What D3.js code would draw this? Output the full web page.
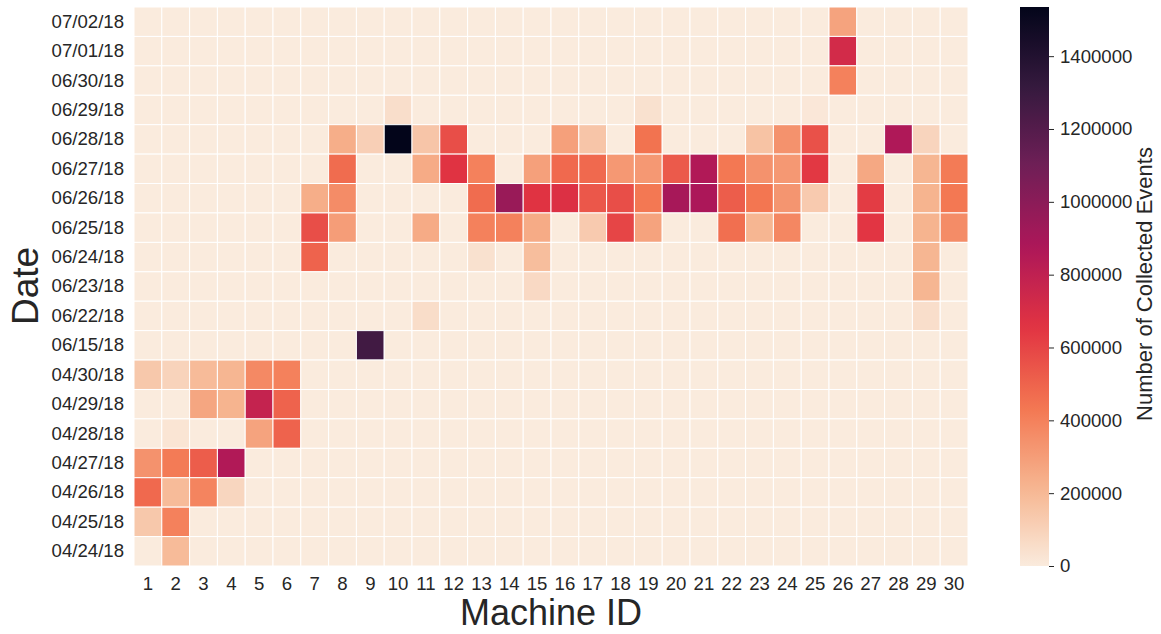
<!DOCTYPE html>
<html>
<head>
<meta charset="utf-8">
<script src="https://cdn.jsdelivr.net/npm/d3@7"></script>
<style>
  body { margin: 0; background: #fff; }
  svg { font-family: "Liberation Sans", Arial, sans-serif; }
</style>
</head>
<body>
<div id="chart"></div>
<script>
// rows top to bottom
const dates = ["07/02/18", "07/01/18", "06/30/18", "06/29/18", "06/28/18", "06/27/18", "06/26/18",
  "06/25/18", "06/24/18", "06/23/18", "06/22/18", "06/15/18", "04/30/18", "04/29/18", "04/28/18",
  "04/27/18", "04/26/18", "04/25/18", "04/24/18"];

const machines = [1, 2, 3, 4, 5, 6, 7, 8, 9, 10, 11, 12, 13, 14, 15,
  16, 17, 18, 19, 20, 21, 22, 23, 24, 25, 26, 27, 28, 29, 30];

// events[row][machine-1]
const events = [
  [0,0,0,0,0,0,0,0,0,0,0,0,0,0,0, 0,0,0,0,0,0,0,0,0,0,280000,0,0,0,0],
  [0,0,0,0,0,0,0,0,0,0,0,0,0,0,0, 0,0,0,0,0,0,0,0,0,0,720000,0,0,0,0],
  [0,0,0,0,0,0,0,0,0,0,0,0,0,0,0, 0,0,0,0,0,0,0,0,0,0,400000,0,0,0,0],
  [0,0,0,0,0,0,0,0,0,50000,0,0,0,0,0, 0,0,0,40000,0,0,0,0,0,15000,0,0,0,0,0],
  [0,0,0,0,0,0,0,240000,110000,1535000,150000,570000,0,0,0, 290000,150000,0,450000,0,0,0,160000,340000,560000,0,0,870000,90000,0],
  [0,0,0,0,0,0,0,470000,0,0,250000,660000,400000,0,290000, 480000,480000,320000,320000,530000,860000,430000,340000,320000,640000,0,260000,0,210000,420000],
  [0,0,0,0,0,0,240000,360000,0,0,0,0,470000,950000,660000, 680000,540000,570000,430000,900000,880000,520000,440000,330000,130000,0,630000,0,220000,430000],
  [0,0,0,0,0,0,570000,300000,0,0,250000,0,400000,400000,250000, 0,130000,600000,280000,0,0,460000,210000,380000,0,0,650000,0,220000,360000],
  [0,0,0,0,0,0,500000,0,0,0,0,0,40000,0,180000, 0,0,0,0,0,0,0,0,0,0,0,0,0,210000,0],
  [0,0,0,0,0,0,0,0,0,0,0,0,0,0,70000, 0,0,0,0,0,0,0,0,0,0,0,0,0,210000,0],
  [0,0,0,0,0,0,0,0,0,0,55000,0,0,0,0, 0,0,0,0,0,0,0,0,0,0,0,0,0,50000,0],
  [0,0,0,0,0,0,0,0,1270000,0,0,0,0,0,0, 0,0,0,0,0,0,0,0,0,0,0,0,0,0,0],
  [140000,95000,190000,210000,370000,400000,0,0,0,0,0,0,0,0,0, 0,0,0,0,0,0,0,0,0,0,0,0,0,0,0],
  [0,0,270000,220000,780000,500000,0,0,0,0,0,0,0,0,0, 0,0,0,0,0,0,0,0,0,0,0,0,0,0,0],
  [0,25000,0,0,280000,500000,0,0,0,0,0,0,0,0,0, 0,0,0,0,0,0,0,0,0,0,0,0,0,0,0],
  [340000,420000,520000,860000,0,0,0,0,0,0,0,0,0,0,0, 0,0,0,0,0,0,0,0,0,0,0,0,0,0,0],
  [480000,190000,390000,85000,0,0,0,0,0,0,0,0,0,0,0, 0,0,0,0,0,0,0,0,0,0,0,0,0,0,0],
  [140000,400000,0,0,0,0,0,0,0,0,0,0,0,0,0, 0,0,0,0,0,0,0,0,0,0,0,0,0,0,0],
  [0,190000,0,0,0,0,0,0,0,0,0,0,0,0,0, 0,0,0,0,0,0,0,0,0,0,0,0,0,0,0]
];

const cbarTicks = [0, 200000, 400000, 600000, 800000, 1000000, 1200000, 1400000];

// rocket_r, light to dark
const rocketR = ["#faebdd", "#f6b48f", "#f37651", "#e13342", "#ad1759", "#701f57", "#35193e", "#03051a"];

const width = 1161, height = 634;
const textColor = "#262626";
const tickFont = 18.6;

const cells = [];
events.forEach((row, i) => row.forEach((v, j) => cells.push({date: dates[i], machine: machines[j], value: v})));

const vmax = d3.max(cells, d => d.value);

const x = d3.scaleBand().domain(machines).range([134, 968]);
const y = d3.scaleBand().domain(dates).range([7, 566]);

const color = d3.scaleLinear()
  .domain(rocketR.map((c, i) => vmax * i / (rocketR.length - 1)))
  .range(rocketR)
  .interpolate(d3.interpolateRgb);

const svg = d3.select("#chart").append("svg")
  .attr("width", width)
  .attr("height", height);

svg.append("g")
  .selectAll("rect")
  .data(cells)
  .enter()
  .append("rect")
  .attr("x", d => x(d.machine))
  .attr("y", d => y(d.date))
  .attr("width", x.bandwidth())
  .attr("height", y.bandwidth())
  .attr("fill", d => color(d.value))
  .attr("stroke", "#fff")
  .attr("stroke-width", 1);

// axes
const xAxis = svg.append("g")
  .attr("transform", `translate(0,566)`)
  .call(d3.axisBottom(x).tickSize(0).tickPadding(11));
xAxis.select(".domain").remove();
xAxis.selectAll("text").attr("font-size", tickFont).attr("fill", textColor).attr("font-family", "Liberation Sans, Arial, sans-serif");

const yAxis = svg.append("g")
  .attr("transform", `translate(134,0)`)
  .call(d3.axisLeft(y).tickSize(0).tickPadding(10));
yAxis.select(".domain").remove();
yAxis.selectAll("text").attr("font-size", tickFont).attr("fill", textColor).attr("font-family", "Liberation Sans, Arial, sans-serif");

svg.append("text")
  .attr("x", 551)
  .attr("y", 625)
  .attr("text-anchor", "middle")
  .attr("font-size", 36)
  .attr("fill", textColor)
  .text("Machine ID");

svg.append("text")
  .attr("transform", "translate(38,286) rotate(-90)")
  .attr("text-anchor", "middle")
  .attr("font-size", 37)
  .attr("fill", textColor)
  .text("Date");

// colorbar
const cb = d3.scaleLinear().domain([0, vmax]).range([566, 7]);
const grad = svg.append("defs").append("linearGradient")
  .attr("id", "cbar")
  .attr("x1", 0).attr("y1", 1).attr("x2", 0).attr("y2", 0);
grad.selectAll("stop")
  .data(d3.range(0, 1.0001, 0.02))
  .enter()
  .append("stop")
  .attr("offset", d => d)
  .attr("stop-color", d => color(d * vmax));

svg.append("rect")
  .attr("x", 1020)
  .attr("y", 7)
  .attr("width", 29)
  .attr("height", 559)
  .attr("fill", "url(#cbar)");

const cAxis = svg.append("g")
  .attr("transform", "translate(1049,0)")
  .call(d3.axisRight(cb).tickValues(cbarTicks).tickFormat(d => d).tickSize(5).tickPadding(6));
cAxis.select(".domain").remove();
cAxis.selectAll("line").attr("stroke", textColor);
cAxis.selectAll("text").attr("font-size", tickFont).attr("fill", textColor).attr("font-family", "Liberation Sans, Arial, sans-serif");

svg.append("text")
  .attr("transform", "translate(1152,284) rotate(-90)")
  .attr("text-anchor", "middle")
  .attr("font-size", 22)
  .attr("fill", textColor)
  .text("Number of Collected Events");
</script>
</body>
</html>
